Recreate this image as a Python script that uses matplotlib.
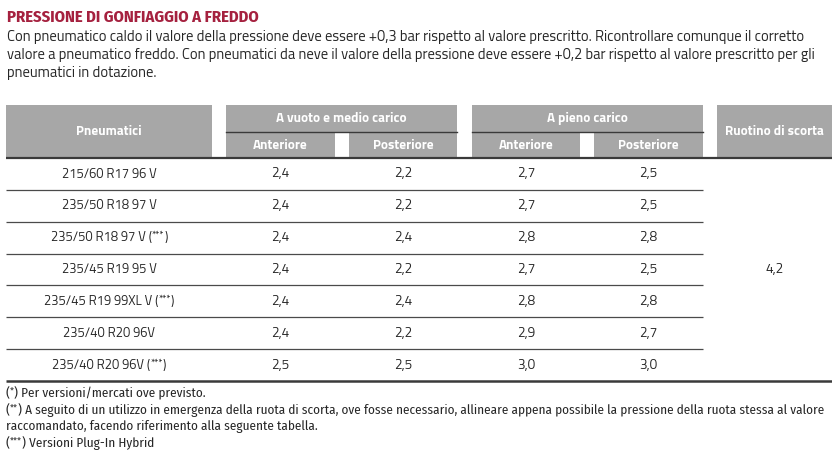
import matplotlib
matplotlib.use("Agg")
import matplotlib.pyplot as plt
from matplotlib.patches import Rectangle
from matplotlib import font_manager as fm

# ---------------- data ----------------
title = "PRESSIONE DI GONFIAGGIO A FREDDO"
intro_lines = [
    "Con pneumatico caldo il valore della pressione deve essere +0,3 bar rispetto al valore prescritto. Ricontrollare comunque il corretto",
    "valore a pneumatico freddo. Con pneumatici da neve il valore della pressione deve essere +0,2 bar rispetto al valore prescritto per gli",
    "pneumatici in dotazione.",
]
tyres = ["215/60 R17 96 V", "235/50 R18 97 V", "235/50 R18 97 V", "235/45 R19 95 V",
         "235/45 R19 99XL V", "235/40 R20 96V", "235/40 R20 96V"]
tyre_notes = ["", "", "***", "", "***", "", "***"]
vuoto_anteriore = [2.4, 2.4, 2.4, 2.4, 2.4, 2.4, 2.5]
vuoto_posteriore = [2.2, 2.2, 2.4, 2.2, 2.4, 2.2, 2.5]
pieno_anteriore = [2.7, 2.7, 2.8, 2.7, 2.8, 2.9, 3.0]
pieno_posteriore = [2.5, 2.5, 2.8, 2.5, 2.8, 2.7, 3.0]
ruotino = 4.2
group_labels = ["A vuoto e medio carico", "A pieno carico"]
sub_labels = ["Anteriore", "Posteriore"]
first_col = "Pneumatici"
last_col = "Ruotino di scorta"
footnote_marks = ["*", "**", "", "***"]
footnote_texts = [
    "Per versioni/mercati ove previsto.",
    "A seguito di un utilizzo in emergenza della ruota di scorta, ove fosse necessario, allineare appena possibile la pressione della ruota stessa al valore",
    "raccomandato, facendo riferimento alla seguente tabella.",
    "Versioni Plug-In Hybrid",
]

# ---------------- fonts ----------------
names = {f.name for f in fm.fontManager.ttflist}
def pick(*cands):
    for c in cands:
        if c in names:
            return c
    return "DejaVu Sans"
BODY = pick("Titillium Web", "Fira Sans", "Lato")
COND = pick("Fira Sans Condensed", "Roboto Condensed", "PT Sans Narrow", "DejaVu Sans")

fmt = lambda v: f"{v:.1f}".replace(".", ",")

W, H = 832, 468
fig = plt.figure(figsize=(W / 100, H / 100), dpi=100)
ax = fig.add_axes([0, 0, 1, 1])
ax.set_xlim(0, W)
ax.set_ylim(H, 0)
ax.axis("off")

GRAY = "#a7a7a7"
DARK = "#3a3a3a"
RED = "#a5213f"
TXT = "#262626"

renderer = fig.canvas.get_renderer()


def width(t):
    return t.get_window_extent(renderer=renderer).width


def fit(t, target):
    t.set_fontsize(t.get_fontsize() * target / width(t))
    return t.get_fontsize()


def pieces(x, y, parts, ha="left"):
    """parts: list of (text, fontsize, dy, family). Draw them side by side."""
    objs = [ax.text(0, y + dy, s, fontsize=fs, family=fam, color=TXT, ha="left", va="center")
            for s, fs, dy, fam in parts]
    ws = [width(o) for o in objs]
    total = sum(ws)
    cx = x - total / 2 if ha == "center" else x
    for o, w in zip(objs, ws):
        o.set_x(cx)
        cx += w
    return objs


# title
t = ax.text(7, 17, title, fontsize=10.5, family=COND, weight="bold", color=RED, va="center", ha="left")
fit(t, 251)

# intro
ts = [ax.text(7, 36.5 + 18 * i, s, fontsize=10, family=BODY, color=TXT, va="center", ha="left")
      for i, s in enumerate(intro_lines)]
fs = fit(ts[1], 813)
for tt in (ts[0], ts[2]):
    tt.set_fontsize(fs)

# column geometry (pixels)
x0, x_end = 6, 832
cols = [(6, 212), (226, 335), (349, 457), (472, 580), (594, 703), (717, 832)]
top, mid, hbot = 105, 132, 158
row_h = (381 - hbot) / len(tyres)

HFS = 9.6
# header boxes
ax.add_patch(Rectangle((cols[0][0], top), cols[0][1] - cols[0][0], hbot - top, color=GRAY, lw=0))
ax.add_patch(Rectangle((cols[5][0], top), cols[5][1] - cols[5][0], hbot - top, color=GRAY, lw=0))
for g in range(2):
    a, b = cols[1 + 2 * g], cols[2 + 2 * g]
    ax.add_patch(Rectangle((a[0], top), b[1] - a[0], mid - top, color=GRAY, lw=0))
    for c in (a, b):
        ax.add_patch(Rectangle((c[0], mid), c[1] - c[0], hbot - mid, color=GRAY, lw=0))
    ax.plot([a[0], b[1]], [mid, mid], color=DARK, lw=1.0)
    ax.text((a[0] + b[1]) / 2, (top + mid) / 2, group_labels[g], family=BODY, weight="bold",
            color="white", fontsize=HFS, ha="center", va="center")
    for c, lab in zip((a, b), sub_labels):
        ax.text((c[0] + c[1]) / 2, (mid + hbot) / 2 + 0.5, lab, family=BODY, weight="bold",
                color="white", fontsize=HFS, ha="center", va="center")
ax.text(sum(cols[0]) / 2, (top + hbot) / 2, first_col, family=BODY, weight="bold",
        color="white", fontsize=HFS, ha="center", va="center")
ax.text(sum(cols[5]) / 2, (top + hbot) / 2, last_col, family=BODY, weight="bold",
        color="white", fontsize=HFS, ha="center", va="center")
ax.plot([x0, x_end], [hbot, hbot], color=DARK, lw=1.6, solid_capstyle="butt")

# rows
RFS = 9.4
NFS = 9.8
series = [vuoto_anteriore, vuoto_posteriore, pieno_anteriore, pieno_posteriore]
for i, tyre in enumerate(tyres):
    yc = hbot + row_h * (i + 0.5)
    if tyre_notes[i]:
        parts = [(tyre + " (", RFS, 0, BODY), (tyre_notes[i], RFS * 0.75, -2, BODY), (")", RFS, 0, BODY)]
    else:
        parts = [(tyre, RFS, 0, BODY)]
    pieces(sum(cols[0]) / 2, yc, parts, ha="center")
    for j, s in enumerate(series):
        ax.text(sum(cols[1 + j]) / 2, yc, fmt(s[i]), family=BODY, fontsize=NFS, color=TXT,
                ha="center", va="center")
    yb = hbot + row_h * (i + 1)
    if i < len(tyres) - 1:
        ax.plot([x0, cols[4][1]], [yb, yb], color="#4a4a4a", lw=0.9, solid_capstyle="butt")
    else:
        ax.plot([x0, x_end], [yb, yb], color=DARK, lw=1.8, solid_capstyle="butt")
ax.text(sum(cols[5]) / 2, hbot + row_h * len(tyres) / 2, fmt(ruotino), family=BODY, fontsize=NFS,
        color=TXT, ha="center", va="center")

# footnotes
FFS = 9.0
probe = ax.text(0, 0, "(" + footnote_marks[1] + ") " + footnote_texts[1], family=COND, fontsize=FFS)
FFS = FFS * 823 / width(probe)
probe.remove()
for i, (m, s) in enumerate(zip(footnote_marks, footnote_texts)):
    y = 393 + 16.8 * i
    if m:
        parts = [("(", FFS, 0, COND), (m, FFS * 0.75, -2, COND), (") " + s, FFS, 0, COND)]
    else:
        parts = [(s, FFS, 0, COND)]
    pieces(6, y, parts)

fig.savefig("out.png", dpi=100)
